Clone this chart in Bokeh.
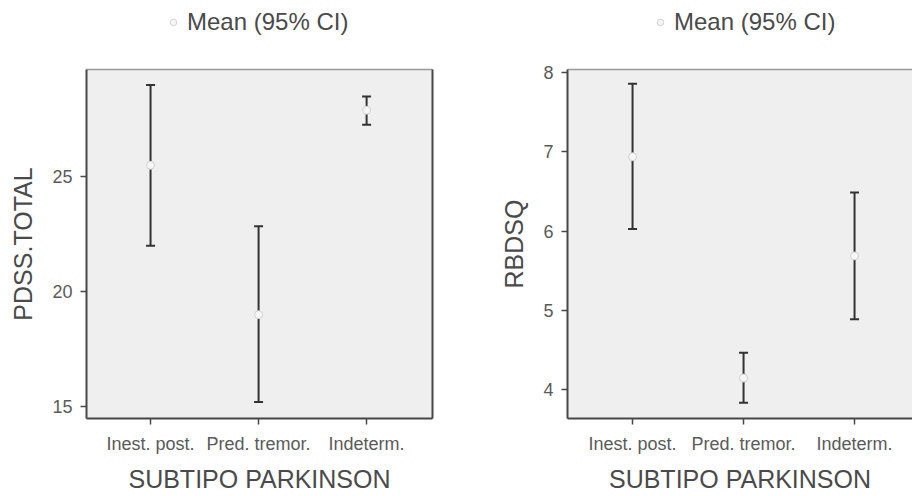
from bokeh.plotting import figure
from bokeh.models import (ColumnDataSource, Whisker, TeeHead, Legend, LegendItem,
                          LinearAxis, Range1d, FixedTicker)
from bokeh.layouts import row, column
from bokeh.embed import file_html
from bokeh.resources import INLINE

# ---- data ----
categories = ["Inest. post.", "Pred. tremor.", "Indeterm."]
pdss_mean = [25.5, 19.0, 27.9]
pdss_lower = [22.0, 15.2, 27.27]
pdss_upper = [29.0, 22.85, 28.49]
rbdsq_mean = [6.94, 4.15, 5.69]
rbdsq_lower = [6.03, 3.84, 4.89]
rbdsq_upper = [7.86, 4.47, 6.49]
pdss_ticks = [15, 20, 25]
rbdsq_ticks = [4, 5, 6, 7, 8]
legend_label = "Mean (95% CI)"
x_title = "SUBTIPO PARKINSON"

FONT = "Liberation Sans"
FRAME_BG = "#efefef"
AXIS_C = "#474747"
TEXT_C = "#4a4a4a"
TICK_TEXT_C = "#5a5a5a"
MEAN_STYLE = dict(size=8, fill_color="#f6f6f6", line_color="#d0d0d0", line_width=1)
LEG_H = 44


def make_legend_fig(width, means, vx):
    xs = list(range(1, len(categories) + 1))
    lf = figure(width=width, height=LEG_H, output_backend="svg", toolbar_location=None,
                x_range=Range1d(0, 1), y_range=Range1d(0, 1),
                x_axis_type=None, y_axis_type=None,
                min_border=0, outline_line_color=None,
                background_fill_color="white", border_fill_color="white")
    lf.grid.visible = False
    # renderer only used as the legend's glyph source (hidden in this strip)
    r = lf.scatter(x=xs, y=means, visible=False, **MEAN_STYLE)
    leg = Legend(items=[LegendItem(label=legend_label, renderers=[r])],
                 location=(vx, 8), padding=0, margin=0, spacing=0,
                 border_line_color=None, background_fill_alpha=0,
                 glyph_width=16, glyph_height=16, label_height=28,
                 label_standoff=6,
                 label_text_font=FONT, label_text_font_size="24px",
                 label_text_color=TEXT_C)
    lf.add_layout(leg)
    return lf


def make_panel(means, lows, ups, yticks, ylabel, xr, yr, width, mb_left, mb_right,
               right_border):
    xs = list(range(1, len(categories) + 1))
    src = ColumnDataSource(dict(x=xs, mean=means, lower=lows, upper=ups))
    p = figure(width=width, height=496 - LEG_H, output_backend="svg",
               toolbar_location=None,
               x_range=Range1d(*xr), y_range=Range1d(*yr),
               min_border_left=mb_left, min_border_right=mb_right,
               min_border_top=69 - LEG_H, min_border_bottom=78,
               background_fill_color=FRAME_BG, border_fill_color="white",
               outline_line_color=None)
    p.grid.visible = False

    w = Whisker(source=src, base="x", upper="upper", lower="lower",
                line_color="#333333", line_width=2,
                upper_head=TeeHead(size=9, line_color="#333333", line_width=2),
                lower_head=TeeHead(size=9, line_color="#333333", line_width=2))
    p.add_layout(w)
    p.scatter("x", "mean", source=src, **MEAN_STYLE)

    for ax in (p.xaxis[0], p.yaxis[0]):
        ax.axis_line_color = AXIS_C
        ax.axis_line_width = 2
        ax.major_tick_line_color = AXIS_C
        ax.major_tick_line_width = 1.5
        ax.major_tick_out = 6
        ax.major_tick_in = 0
        ax.minor_tick_line_color = None
        ax.major_label_text_font = FONT
        ax.major_label_text_font_size = "18px"
        ax.major_label_text_color = TICK_TEXT_C
        ax.axis_label_text_font = FONT
        ax.axis_label_text_font_size = "25px"
        ax.axis_label_text_font_style = "normal"
        ax.axis_label_text_color = TEXT_C

    p.xaxis.ticker = FixedTicker(ticks=xs)
    p.xaxis.major_label_overrides = {x: c for x, c in zip(xs, categories)}
    p.xaxis.axis_label = x_title
    p.xaxis.major_label_standoff = 9
    p.xaxis.axis_label_standoff = 8

    p.yaxis.ticker = FixedTicker(ticks=yticks)
    p.yaxis.axis_label = ylabel
    p.yaxis.major_label_standoff = 8
    p.yaxis.axis_label_standoff = 12

    top = LinearAxis(axis_line_color="#9a9a9a", axis_line_width=1.5,
                     major_tick_line_color=None, minor_tick_line_color=None,
                     major_tick_out=0, major_tick_in=0, major_label_standoff=0,
                     major_label_text_font_size="0px", ticker=FixedTicker(ticks=[]))
    p.add_layout(top, "above")
    if right_border:
        rt = LinearAxis(axis_line_color=AXIS_C, axis_line_width=2,
                        major_tick_line_color=None, minor_tick_line_color=None,
                        major_tick_out=0, major_label_standoff=0,
                        major_label_text_font_size="0px", ticker=FixedTicker(ticks=[]))
        p.add_layout(rt, "right")
    return p


p1 = make_panel(pdss_mean, pdss_lower, pdss_upper, pdss_ticks, "PDSS.TOTAL",
                (0.407, 3.61), (14.48, 29.67), 456, 86, 24, True)
p2 = make_panel(rbdsq_mean, rbdsq_lower, rbdsq_upper, rbdsq_ticks, "RBDSQ",
                (0.414, 3.522), (3.64, 8.04), 456, 111, 0, False)
# legend strips: their frames align with the panels below (left edges 86 / 567)
l1 = make_legend_fig(456, pdss_mean, 79)
l2 = make_legend_fig(456, rbdsq_mean, 85)

layout = row(column(l1, p1, spacing=0), column(l2, p2, spacing=0), spacing=0)
open("out.html", "w").write(file_html(layout, INLINE))
